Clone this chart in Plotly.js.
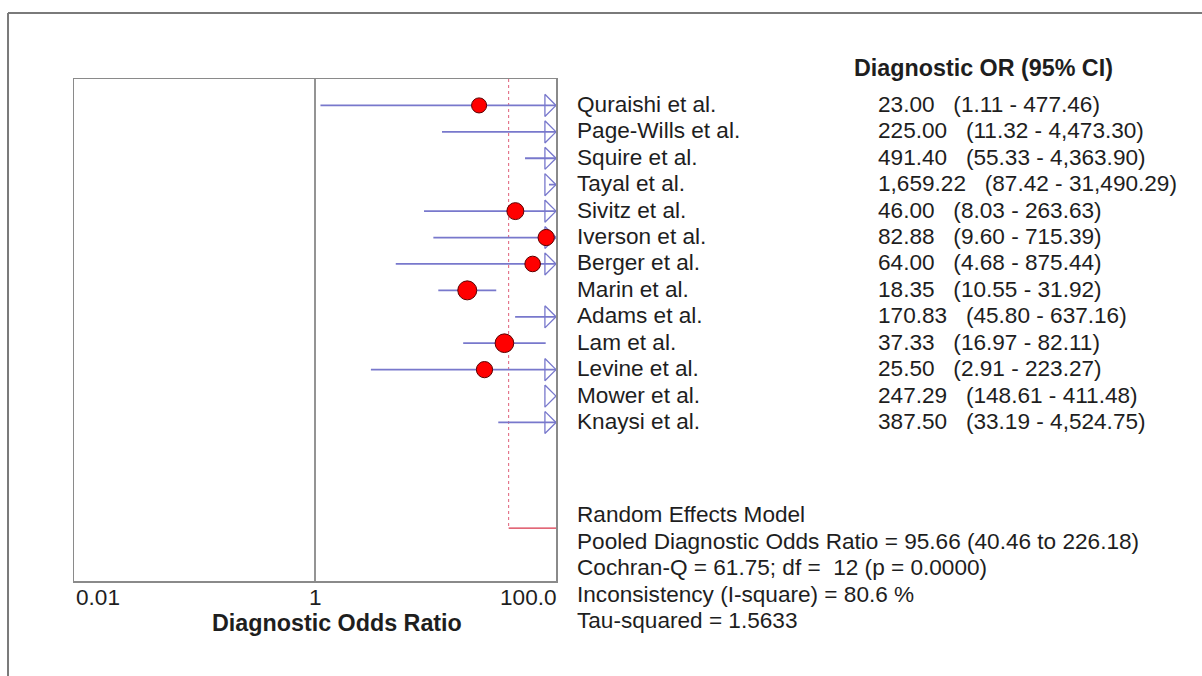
<!DOCTYPE html>
<html>
<head>
<meta charset="utf-8">
<script src="https://cdn.plot.ly/plotly-3.0.1.min.js"></script>
<style>html,body{margin:0;padding:0;background:#fff;}#chart{width:1202px;height:676px;}</style>
</head>
<body>
<div id="chart"></div>
<script>
// ---- data ----
const studies = ["Quraishi et al.", "Page-Wills et al.", "Squire et al.", "Tayal et al.", "Sivitz et al.", "Iverson et al.", "Berger et al.", "Marin et al.", "Adams et al.", "Lam et al.", "Levine et al.", "Mower et al.", "Knaysi et al."];
const orVals = [23.00, 225.00, 491.40, 1659.22, 46.00, 82.88, 64.00, 18.35, 170.83, 37.33, 25.50, 247.29, 387.50];
const ciLow = [1.11, 11.32, 55.33, 87.42, 8.03, 9.60, 4.68, 10.55, 45.80, 16.97, 2.91, 148.61, 33.19];
const ciHigh = [477.46, 4473.30, 4363.90, 31490.29, 263.63, 715.39, 875.44, 31.92, 637.16, 82.11, 223.27, 411.48, 4524.75];
const orText = ["23.00", "225.00", "491.40", "1,659.22", "46.00", "82.88", "64.00", "18.35", "170.83", "37.33", "25.50", "247.29", "387.50"];
const ciText = ["(1.11 - 477.46)", "(11.32 - 4,473.30)", "(55.33 - 4,363.90)", "(87.42 - 31,490.29)", "(8.03 - 263.63)", "(9.60 - 715.39)", "(4.68 - 875.44)", "(10.55 - 31.92)", "(45.80 - 637.16)", "(16.97 - 82.11)", "(2.91 - 223.27)", "(148.61 - 411.48)", "(33.19 - 4,524.75)"];
const pooledOR = 95.66, pooledLow = 40.46, pooledHigh = 226.18;
const tau2 = 1.5633;
const summaryLines = ["Random Effects Model", "Pooled Diagnostic Odds Ratio = 95.66 (40.46 to 226.18)", "Cochran-Q = 61.75; df =  12 (p = 0.0000)", "Inconsistency (I-square) = 80.6 %", "Tau-squared = 1.5633"];
const headerText = "Diagnostic OR (95% CI)";
const xTitle = "Diagnostic Odds Ratio";
const tickVals = [0.01, 1, 100];
const tickLabels = ["0.01", "1", "100.0"];

// ---- style ----
const FONT = "Arial, 'Liberation Sans', sans-serif";
const FS = 22.6;
const FSB = 23.3;
const TXT = "#1e1e1e";
const CI_COLOR = "#7878cc";
const xmin = -2, xmax = 2; // log10 range
const rows = studies.map((_, i) => i);
const pooledRow = studies.length + 3;
const yTop = -1, yBot = pooledRow + 2;
const py = r => 1 - (r - yTop) / (yBot - yTop); // row -> paper y

// weights (random effects) -> marker size
const weights = ciLow.map((lo, i) => {
  const se = (Math.log(ciHigh[i]) - Math.log(lo)) / 3.92;
  return 1 / (se * se + tau2);
});
const sizes = weights.map(w => 12.3 + 11 * w);

// CI lines
const ciX = [], ciY = [];
rows.forEach(i => { ciX.push(ciLow[i], ciHigh[i], null); ciY.push(i, i, null); });

// arrowheads for CIs that exceed the axis
const arrX = [], arrY = [];
const baseX = Math.pow(10, xmax - 0.092), tipX = Math.pow(10, xmax);
rows.forEach(i => {
  if (ciHigh[i] > tipX) {
    arrX.push(baseX, tipX, baseX, baseX, null);
    arrY.push(i - 0.42, i, i + 0.42, i - 0.42, null);
  }
});

const traces = [
  { x: [1, 1], y: [yTop, yBot], mode: "lines", line: { color: "#707070", width: 1.5 }, hoverinfo: "skip" },
  { x: [pooledLow, pooledLow], y: [yTop, pooledRow], mode: "lines", line: { color: "#e0607a", width: 1, dash: "dot" }, hoverinfo: "skip" },
  { x: [pooledLow, pooledHigh], y: [pooledRow, pooledRow], mode: "lines", line: { color: "#d8344a", width: 1.2 }, hoverinfo: "skip" },
  { x: ciX, y: ciY, mode: "lines", line: { color: CI_COLOR, width: 1.8 }, hoverinfo: "skip" },
  { x: arrX, y: arrY, mode: "lines", line: { color: CI_COLOR, width: 1.3 }, hoverinfo: "skip" },
  { x: orVals, y: rows, mode: "markers", marker: { color: "#ff0000", opacity: 1, size: sizes, line: { color: "#5a0000", width: 1 } }, hoverinfo: "skip" }
];

const ann = [];
const txt = (o, size) => Object.assign({ showarrow: false, yanchor: "middle", font: { family: FONT, size: size || FS, color: TXT } }, o);
rows.forEach(i => {
  ann.push(txt({ xref: "paper", x: 1, xshift: 19, xanchor: "left", yref: "paper", y: py(i), yshift: 1, text: studies[i] }));
  ann.push(txt({ xref: "paper", x: 1, xshift: 320, xanchor: "left", yref: "paper", y: py(i), yshift: 1, text: orText[i] + "\u00a0\u00a0 " + ciText[i] }));
});
ann.push(txt({ xref: "paper", x: 1, xshift: 296, xanchor: "left", yref: "paper", y: py(-1.43), text: "<b>" + headerText + "</b>" }, FSB));
summaryLines.forEach((s, k) => {
  ann.push(txt({ xref: "paper", x: 1, xshift: 19, xanchor: "left", yref: "paper", y: py(pooledRow - 0.5 + k), text: s }));
});
const anchors = ["left", "center", "right"];
tickVals.forEach((v, k) => {
  ann.push(txt({ xref: "x", x: Math.log10(v), xanchor: anchors[k], yref: "paper", y: py(18.63), text: tickLabels[k], xshift: k === 2 ? 3 : 0 }));
});
ann.push(txt({ xref: "paper", x: 0.5456, xanchor: "center", yref: "paper", y: py(19.58), text: "<b>" + xTitle + "</b>" }, FSB));

const frame = { color: "#7a7a7a", width: 2 };
const shapes = [
  { type: "line", xref: "paper", yref: "paper", x0: -0.1369, x1: -0.1369, y0: 1.1315, y1: -0.25, line: frame },
  { type: "line", xref: "paper", yref: "paper", x0: -0.1369, x1: 2.4, y0: 1.1315, y1: 1.1315, line: frame }
];

const layout = {
  width: 1202, height: 676,
  margin: { l: 74, r: 646, t: 79, b: 95, pad: 0 },
  paper_bgcolor: "#fff", plot_bgcolor: "#fff",
  showlegend: false,
  xaxis: { type: "log", range: [xmin, xmax], showticklabels: false, ticks: "", showgrid: false, zeroline: false, showline: true, mirror: true, linecolor: "#8a8a8a", linewidth: 1.5, fixedrange: true },
  yaxis: { range: [yBot, yTop], showticklabels: false, ticks: "", showgrid: false, zeroline: false, showline: true, mirror: true, linecolor: "#8a8a8a", linewidth: 1.5, fixedrange: true },
  annotations: ann,
  shapes: shapes
};

Plotly.newPlot("chart", traces, layout, { displayModeBar: false, staticPlot: true });
</script>
</body>
</html>
